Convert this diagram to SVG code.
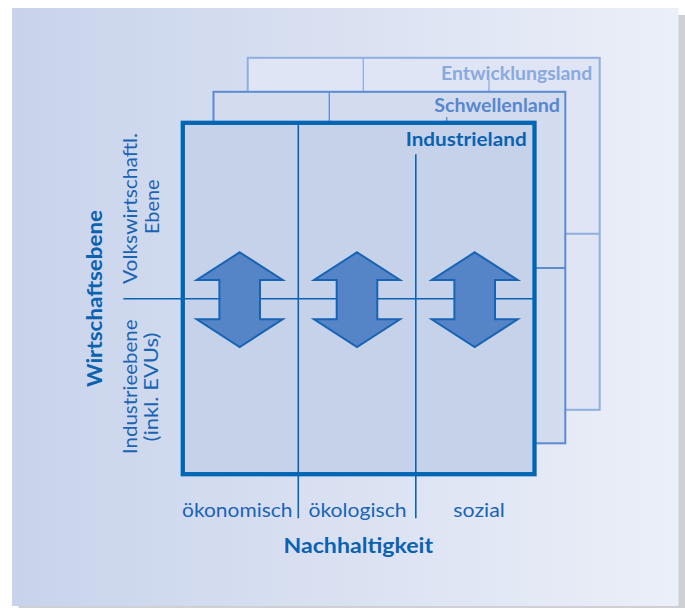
<svg xmlns="http://www.w3.org/2000/svg" width="685" height="608" viewBox="0 0 685 608">
<defs>
<linearGradient id="bg" x1="0" y1="0" x2="1" y2="0">
<stop offset="0" stop-color="#c8d3eb"/>
<stop offset="1" stop-color="#ebeff8"/>
</linearGradient>
<path id="arrow" d="M0,-46.7 L43,-19 L20.3,-19 L20.3,20.3 L43,20.3 L0,48 L-43,20.3 L-20.3,20.3 L-20.3,-19 L-43,-19 Z"/>
</defs>
<style>
.t{font-family:Lato,"Open Sans","Liberation Sans",sans-serif;}
.reg{font-size:19px;fill:#1a64b4;}
.bold{font-weight:bold;}
.ln{stroke:#0b63b1;stroke-width:1.6;fill:none;}
.arr{fill:#5585c7;stroke:#1764b4;stroke-width:2;stroke-linejoin:miter;}
</style>
<g id="panel">
<rect x="18.5" y="15" width="666.5" height="600" fill="#cfd0d3"/>
<rect x="12" y="8" width="666.5" height="598" fill="url(#bg)"/>
</g>
<g id="box-entwicklungsland">
<rect x="247.7" y="57.8" width="352" height="352" fill="#dfe5f4" stroke="#8eaedf" stroke-width="2"/>
<line x1="363.3" y1="57.8" x2="363.3" y2="92" stroke="#8eaedf" stroke-width="1.3"/>
<line x1="489" y1="79" x2="489" y2="92" stroke="#8eaedf" stroke-width="1.3"/>
<line x1="565" y1="233.7" x2="599.7" y2="233.7" stroke="#8eaedf" stroke-width="2"/>
<text class="t bold" x="441" y="80" font-size="19.5" fill="#8aa9dc" textLength="151.3" lengthAdjust="spacingAndGlyphs">Entwicklungsland</text>
</g>
<g id="box-schwellenland">
<rect x="213.5" y="91.8" width="351.8" height="351.5" fill="#d3dbef" stroke="#5b8bd0" stroke-width="2"/>
<line x1="329.3" y1="91.8" x2="329.3" y2="123" stroke="#5b8bd0" stroke-width="1.3"/>
<line x1="446.7" y1="117" x2="446.7" y2="123" stroke="#5b8bd0" stroke-width="1.3"/>
<line x1="534" y1="268" x2="565.3" y2="268" stroke="#5b8bd0" stroke-width="2"/>
<text class="t bold" x="434.3" y="111.7" font-size="19.5" fill="#5787cd" textLength="125.7" lengthAdjust="spacingAndGlyphs">Schwellenland</text>
</g>
<g id="box-industrieland">
<rect x="182.8" y="122.8" width="351.7" height="351.4" fill="#c6d2ea"/>
<text class="t bold" x="405.7" y="146" font-size="19.5" fill="#0a62b0" textLength="121" lengthAdjust="spacingAndGlyphs">Industrieland</text>
</g>
<g id="connectors">
<line class="ln" x1="123.3" y1="298.8" x2="534.5" y2="298.8"/>
<line class="ln" x1="298.3" y1="122.8" x2="298.3" y2="518.3"/>
<line class="ln" x1="415.8" y1="154.3" x2="415.8" y2="518.3"/>
</g>
<g id="industrieland-frame">
<rect x="182.8" y="122.8" width="351.7" height="351.4" fill="none" stroke="#0066b3" stroke-width="4.3"/>
</g>
<g id="arrows">
<use href="#arrow" class="arr" x="239.7" y="299"/>
<use href="#arrow" class="arr" x="357" y="299"/>
<use href="#arrow" class="arr" x="474.7" y="299"/>
</g>
<g id="axis-y">
<text class="t bold" transform="translate(102.3,387) rotate(-90)" font-size="21.5" fill="#0a62b0" textLength="177" lengthAdjust="spacingAndGlyphs">Wirtschaftsebene</text>
<text class="t reg" transform="translate(137.3,284) rotate(-90)" font-size="20" textLength="151" lengthAdjust="spacingAndGlyphs">Volkswirtschaftl.</text>
<text class="t reg" transform="translate(159,234) rotate(-90)" font-size="20" textLength="54.5" lengthAdjust="spacingAndGlyphs">Ebene</text>
<text class="t reg" transform="translate(137.3,454) rotate(-90)" font-size="20" textLength="134.5" lengthAdjust="spacingAndGlyphs">Industrieebene</text>
<text class="t reg" transform="translate(157.5,441.5) rotate(-90)" font-size="20" textLength="109" lengthAdjust="spacingAndGlyphs">(inkl. EVUs)</text>
</g>
<g id="axis-x">
<text class="t reg" x="182" y="516.7" textLength="110.5" lengthAdjust="spacingAndGlyphs">ökonomisch</text>
<text class="t reg" x="308.5" y="516.7" textLength="98" lengthAdjust="spacingAndGlyphs">ökologisch</text>
<text class="t reg" x="453.3" y="516.7" textLength="51.5" lengthAdjust="spacingAndGlyphs">sozial</text>
<text class="t bold" x="283.5" y="552.7" font-size="21.5" fill="#0a62b0" textLength="149.5" lengthAdjust="spacingAndGlyphs">Nachhaltigkeit</text>
</g>
</svg>
